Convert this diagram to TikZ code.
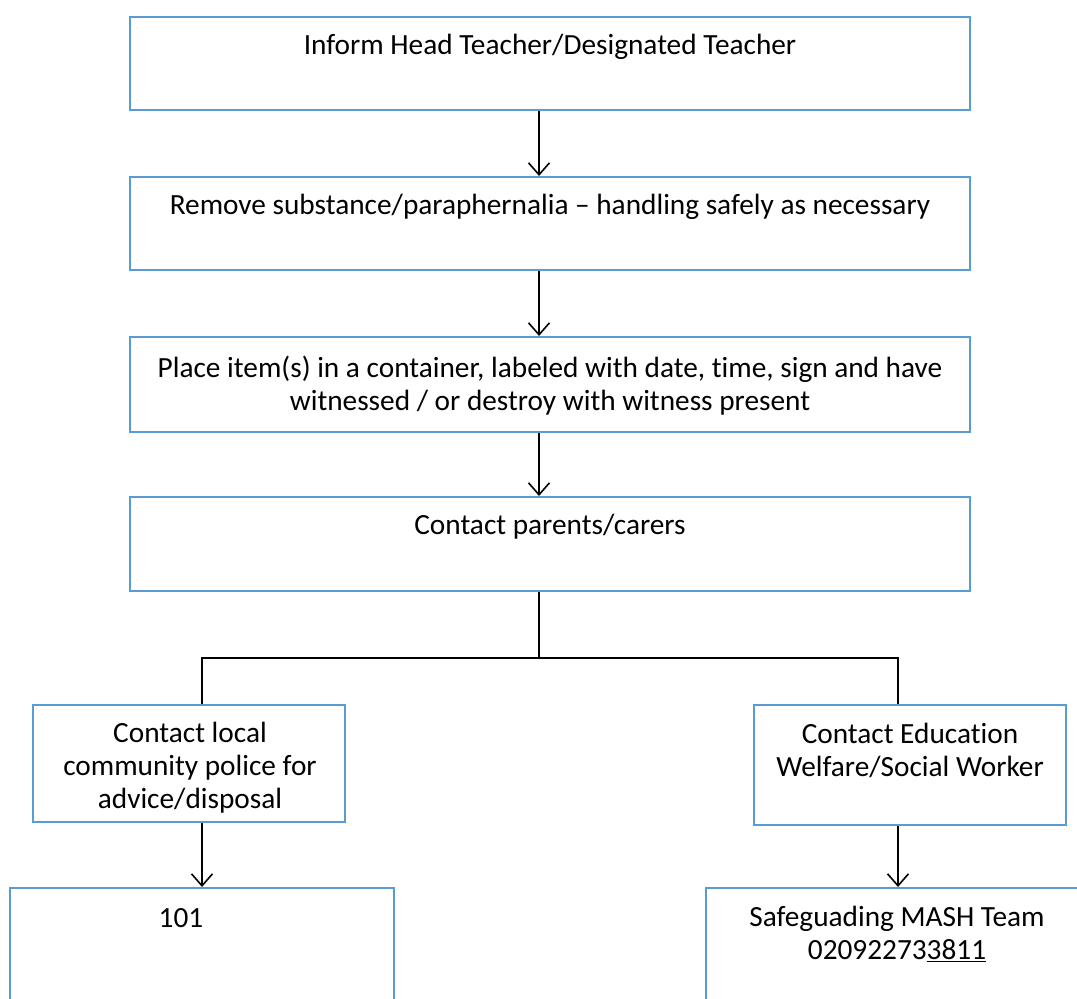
\documentclass[tikz,border=0pt]{standalone}
\usepackage{fontspec}
\setmainfont{Carlito}[Ligatures=NoCommon]
\usetikzlibrary{arrows.meta}
\definecolor{boxblue}{HTML}{5B9BD5}
\begin{document}
\begin{tikzpicture}[x=1pt,y=-1pt,
  box/.style={draw=boxblue,line width=2pt,rectangle,inner sep=0pt},
  txt/.style={align=center,inner sep=0pt,font=\fontsize{29.3}{33}\selectfont},
  conn/.style={draw=black,line width=1.6pt},
  arr/.style={conn,-{Straight Barb[length=12pt,width=21pt]}}]
\useasboundingbox (0,0) rectangle (1077,999);
\node[box,minimum width=840pt,minimum height=93pt] (b1) at (550,63.5) {};
\node[box,minimum width=840pt,minimum height=93pt] (b2) at (550,223.5) {};
\node[box,minimum width=840pt,minimum height=95pt] (b3) at (550,384.5) {};
\node[box,minimum width=840pt,minimum height=94pt] (b4) at (550,544) {};
\node[box,minimum width=312pt,minimum height=117pt] (b5) at (189,763.5) {};
\node[box,minimum width=312pt,minimum height=120pt] (b6) at (910,765) {};
\node[box,minimum width=384pt,minimum height=122pt] (b7) at (202,949) {};
\node[box,minimum width=394pt,minimum height=122pt] (b8) at (903,949) {};
\node[txt] (t1) at (550,47) {Inform Head Teacher/Designated Teacher};
\node[txt] (t2) at (550,207) {Remove substance/paraphernalia – handling safely as necessary};
\node[txt] (t3) at (550,386) {Place item(s) in a container, labeled with date, time, sign and have\\witnessed / or destroy with witness present};
\node[txt] (t4) at (550,527) {Contact parents/carers};
\node[txt] (t5) at (190,768) {Contact local\\community police for\\advice/disposal};
\node[txt] (t6) at (910,750) {Contact Education\\Welfare/Social Worker};
\node[txt] (t7) at (181,918) {101};
\node[txt] (t8) at (897,934) {Safeguading MASH Team\\02092273\underline{3811}};
\coordinate (cx) at (539,0);
\coordinate (jl) at (202,658);
\coordinate (jr) at (898,658);
\draw[arr] (b1.south -| cx) -- (b2.north -| cx);
\draw[arr] (b2.south -| cx) -- (b3.north -| cx);
\draw[arr] (b3.south -| cx) -- (b4.north -| cx);
\draw[conn] (b4.south -| cx) -- (jl -| cx);
\draw[conn] (jl |- b5.north) -- (jl) -- (jr) -- (jr |- b6.north);
\draw[arr] (b5.south -| jl) -- (b7.north -| jl);
\draw[arr] (b6.south -| jr) -- (b8.north -| jr);
\end{tikzpicture}
\end{document}
